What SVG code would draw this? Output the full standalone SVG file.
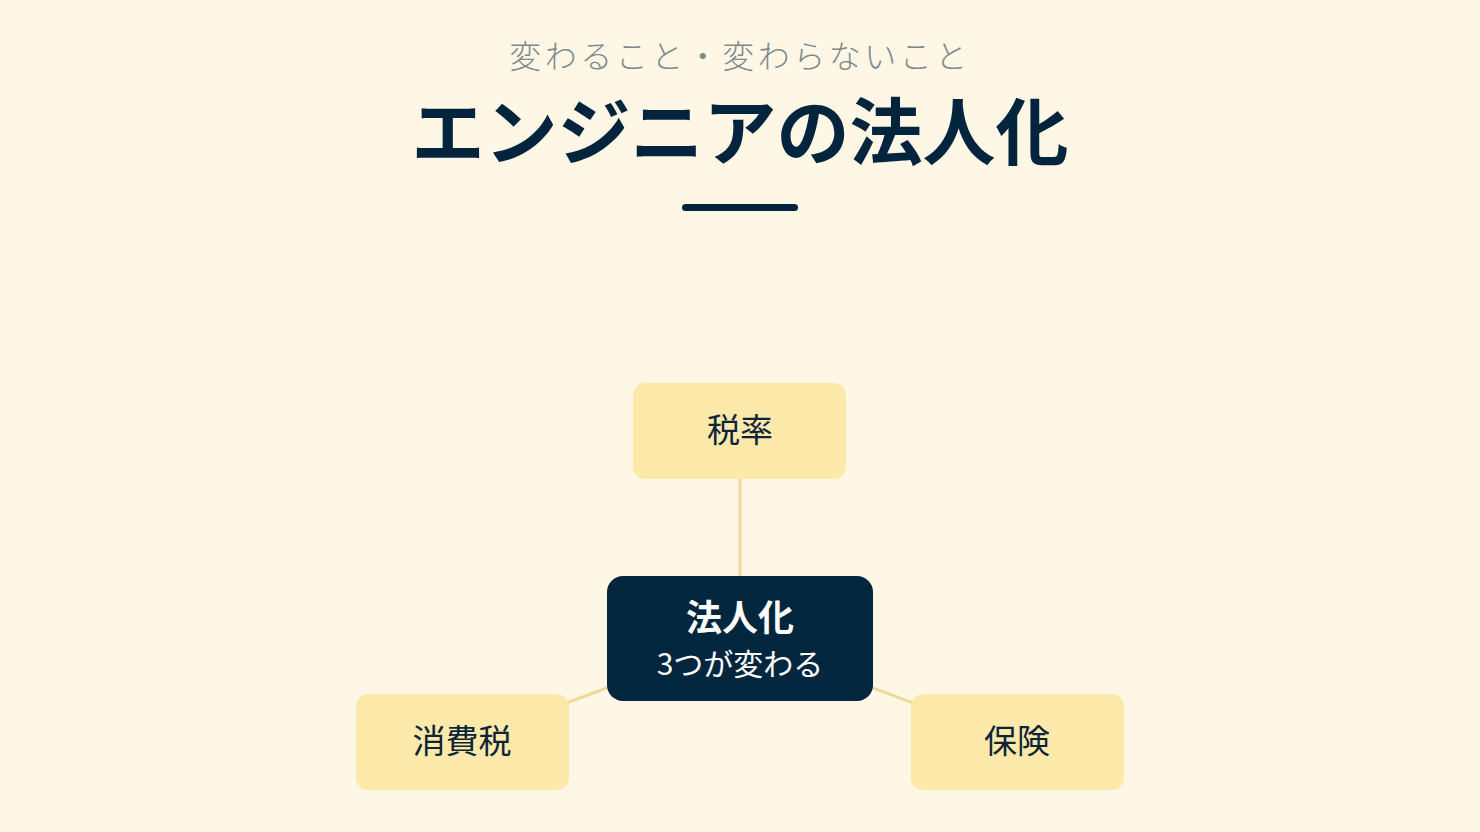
<svg xmlns="http://www.w3.org/2000/svg" width="1480" height="832" viewBox="0 0 1480 832">
<style>
.leaf rect{fill:#fde9aa}
.leaf text{fill:#0d2438;font-family:"Noto Sans CJK JP",sans-serif;font-size:33px;text-anchor:middle;dominant-baseline:central}
.conn line{stroke:#efd998;stroke-width:3}
</style>
<rect width="1480" height="832" fill="#fef7e6"/>
<text x="740" y="68" font-family="Noto Sans CJK JP, sans-serif" font-size="32" font-weight="300" fill="#7f8a8c" text-anchor="middle" letter-spacing="3.5">変わること・変わらないこと</text>
<text x="740" y="159" font-family="Noto Sans CJK JP, sans-serif" font-size="73" font-weight="bold" fill="#03243d" text-anchor="middle">エンジニアの法人化</text>
<rect x="682" y="204" width="116" height="7" rx="3.5" fill="#03243d"/>
<g class="conn">
<line x1="740" y1="638" x2="740" y2="431"/>
<line x1="740" y1="638" x2="462" y2="742"/>
<line x1="740" y1="638" x2="1017" y2="742"/>
</g>
<g id="node-top" class="leaf"><rect x="633" y="383" width="213" height="96" rx="12"/><text x="740" y="428">税率</text></g>
<g id="node-left" class="leaf"><rect x="356" y="694" width="213" height="96" rx="12"/><text x="462" y="739">消費税</text></g>
<g id="node-right" class="leaf"><rect x="911" y="694" width="213" height="96" rx="12"/><text x="1017" y="739">保険</text></g>
<g id="node-center">
<rect x="607" y="576" width="266" height="125" rx="16" fill="#03263f"/>
<text x="740" y="631" font-family="Noto Sans CJK JP, sans-serif" font-size="36" font-weight="bold" fill="#ffffff" text-anchor="middle">法人化</text>
<text x="740" y="675" font-family="Noto Sans CJK JP, sans-serif" font-size="30" fill="#ffffff" text-anchor="middle">3つが変わる</text>
</g>
</svg>
